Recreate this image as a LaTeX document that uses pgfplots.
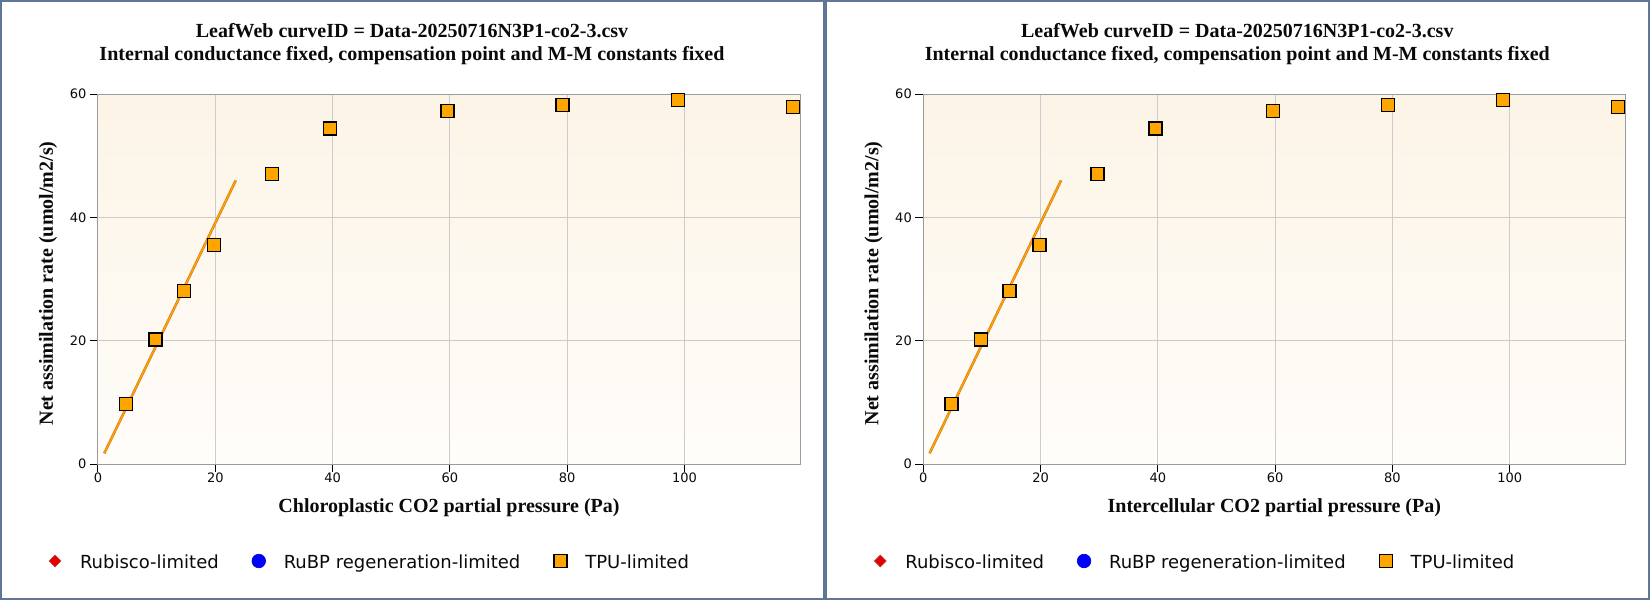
\documentclass[border=0pt]{standalone}
\usepackage{fontspec}
\setmainfont{Liberation Serif}
\newfontfamily\dejavu{DejaVu Sans}
\usepackage{pgfplots}
\usepackage{pgfplotstable}
\pgfplotsset{compat=1.18}

\definecolor{framec}{RGB}{95,118,148}
\definecolor{tpu}{RGB}{255,165,0}
\definecolor{linedark}{RGB}{214,128,30}
\definecolor{gridc}{RGB}{204,204,204}
\definecolor{axc}{RGB}{155,155,155}
\definecolor{bgtop}{RGB}{252,244,230}
\definecolor{bgbot}{RGB}{255,253,250}
\definecolor{txt}{RGB}{10,10,10}

\pgfplotstableread{
x y
4.83 9.68
9.78 20.2
14.7 28.0
19.8 35.5
29.7 47.0
39.6 54.4
59.6 57.2
79.2 58.2
98.9 59.0
118.5 57.9
}\tpudata

\pgfplotstableread{
x y
1.07 1.73
23.5 46.0
}\fitdata

\pgfplotsset{
 panel/.style={
  scale only axis, width=702pt, height=370pt,
  xmin=0, xmax=119.7, ymin=0, ymax=60,
  xtick={0,20,...,100}, ytick={0,20,40,60},
  grid=major, major grid style={gridc, line width=1pt},
  axis line style={axc, line width=1pt},
  tick pos=left, tick align=outside, major tick length=8pt,
  tick style={black, line width=1pt},
  ticklabel style={font=\dejavu\fontsize{13}{15}\selectfont, text=txt},
  xticklabel style={yshift=3pt},
  /pgf/number format/assume math mode=true,
  axis background/.style={top color=bgtop, bottom color=bgbot},
  title={LeafWeb curveID = Data-20250716N3P1-co2-3.csv\\Internal conductance fixed, compensation point and M-M constants fixed},
  title style={at={(axis description cs:0.4473,1.0731)}, anchor=base, align=center, font=\bfseries\fontsize{20}{23}\selectfont, text=txt},
  ylabel={Net assimilation rate (umol/m2/s)},
  ylabel style={at={(axis description cs:-0.0641,0.488)}, anchor=base, font=\bfseries\fontsize{20}{23}\selectfont, text=txt},
  xlabel style={at={(axis description cs:0.5,-0.1324)}, anchor=base, font=\bfseries\fontsize{20}{23}\selectfont, text=txt},
  legend style={at={(axis description cs:-0.0712,-0.2622)}, anchor=west, draw=none, fill=none,
    legend columns=3, font=\dejavu\fontsize{18}{21}\selectfont, text=txt,
    inner sep=0pt, outer sep=0pt, column sep=0pt, row sep=0pt,
    /tikz/every odd column/.append style={column sep=18pt},
    /tikz/every even column/.append style={column sep=33pt},
    nodes={inner sep=0pt, text height=14pt, text depth=0pt}},
  legend cell align=left,
  legend image code/.code={\draw[##1] plot coordinates {(7pt,0pt)}; \path[draw=none,fill=none] (0pt,-7pt) rectangle (14pt,7pt);},
 }
}

\newcommand{\paneldata}{%
  \addplot[linedark, line width=2.6pt, forget plot] table[x=x,y=y] {\fitdata};
  \addplot[tpu, line width=1.2pt, forget plot] table[x=x,y=y] {\fitdata};
  \addplot[only marks, mark=square*, mark size=6.5pt, mark options={fill=tpu, draw=black, line width=1.3pt}, forget plot] table[x=x,y=y] {\tpudata};
  \addlegendimage{only marks, mark=square*, mark size=4.2pt, mark options={rotate=45, fill=red!90!black, draw=red!50!gray, line width=0.6pt}}
  \addlegendentry{Rubisco-limited}
  \addlegendimage{only marks, mark=*, mark size=6.8pt, mark options={fill=blue, draw=blue!80!black, line width=0.6pt}}
  \addlegendentry{RuBP regeneration-limited}
  \addlegendimage{only marks, mark=square*, mark size=6.5pt, mark options={fill=tpu, draw=black, line width=1.3pt}}
  \addlegendentry{TPU-limited}
}

\begin{document}
\begin{tikzpicture}
\useasboundingbox (0,0) rectangle (1650pt,600pt);
\fill[white] (0,0) rectangle (1650pt,600pt);
\draw[framec, line width=2pt] (1pt,1pt) rectangle (824pt,599pt);
\draw[framec, line width=2pt] (826pt,1pt) rectangle (1649pt,599pt);

\begin{axis}[panel, at={(98pt,136pt)}, anchor=south west,
  xlabel={Chloroplastic CO2 partial pressure (Pa)}]
\paneldata
\end{axis}

\begin{axis}[panel, at={(923.3pt,136pt)}, anchor=south west,
  xlabel={Intercellular CO2 partial pressure (Pa)}]
\paneldata
\end{axis}
\end{tikzpicture}
\end{document}
